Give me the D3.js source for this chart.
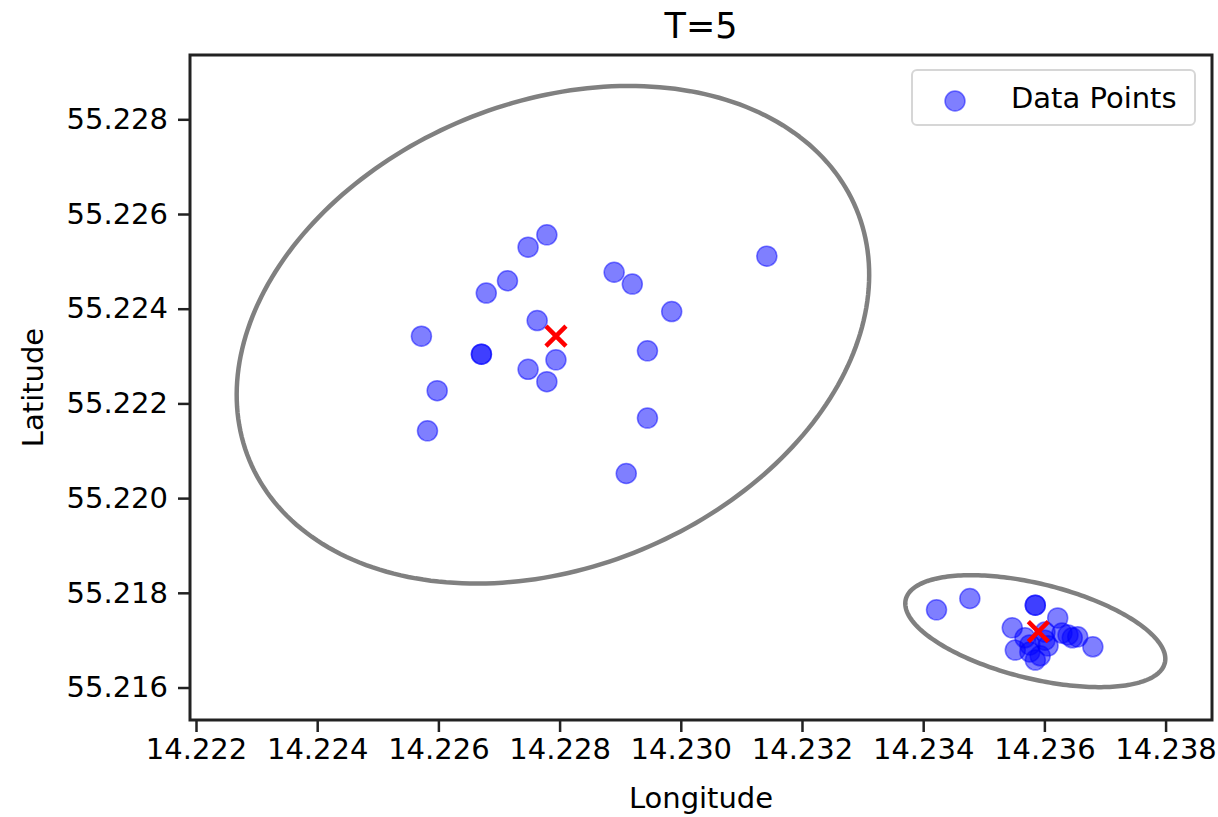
<!DOCTYPE html>
<html>
<head>
<meta charset="utf-8">
<script src="https://cdn.jsdelivr.net/npm/d3@7"></script>
<style>
  body { margin: 0; background: #fff; }
  text { font-family: "DejaVu Sans", sans-serif; fill: #000; }
</style>
</head>
<body>
<div id="chart"></div>
<script>
// data points (longitude, latitude)
var pointLon = [14.22779, 14.22748, 14.22890, 14.22920, 14.22714, 14.22679, 14.22985, 14.22763,
  14.22572, 14.22671, 14.22671, 14.22945, 14.22794, 14.22748, 14.22779, 14.22598, 14.22945,
  14.22582, 14.22910, 14.23142,
  14.23422, 14.23477, 14.23585, 14.23585, 14.23622, 14.23547, 14.23568, 14.23601, 14.23629,
  14.23646, 14.23655, 14.23680, 14.23552, 14.23576, 14.23593, 14.23606,
  14.23576, 14.23601, 14.23639, 14.23585];
var pointLat = [55.22556, 55.22530, 55.22477, 55.22452, 55.22459, 55.22433, 55.22394, 55.22375,
  55.22342, 55.22304, 55.22304, 55.22311, 55.22292, 55.22272, 55.22246, 55.22227, 55.22169,
  55.22142, 55.22052, 55.22511,
  55.21764, 55.21788, 55.21774, 55.21774, 55.21747, 55.21726, 55.21705, 55.21700, 55.21715,
  55.21705, 55.21707, 55.21686, 55.21679, 55.21675, 55.21667, 55.21688,
  55.21690, 55.21717, 55.21711, 55.21658];

// cluster means
var meanLon = [14.22794, 14.23590];
var meanLat = [55.22342, 55.21718];

// covariance ellipses (centre, full width / height in degrees, angle in degrees)
var ellLon = [14.22789, 14.23585];
var ellLat = [55.22345, 55.21719];
var ellWidth = [0.01167, 0.004488];
var ellHeight = [0.00912, 0.001966];
var ellAngle = [45.8, -19.0];

var xTicks = [14.222, 14.224, 14.226, 14.228, 14.230, 14.232, 14.234, 14.236, 14.238];
var yTicks = [55.216, 55.218, 55.220, 55.222, 55.224, 55.226, 55.228];

var margin = {top: 55, right: 6, bottom: 97, left: 190},
  width = 1218 - margin.left - margin.right,
  height = 817 - margin.top - margin.bottom;

var x = d3.scaleLinear().domain([14.221901, 14.238766]).range([0, width]);
var y = d3.scaleLinear().domain([55.215314, 55.229358]).range([height, 0]);

var svg = d3.select("#chart").append("svg")
  .attr("width", 1218)
  .attr("height", 817);

var g = svg.append("g")
  .attr("transform", "translate(" + margin.left + "," + margin.top + ")");

//clip so nothing spills out of the axes
svg.append("defs").append("clipPath").attr("id", "clip")
  .append("rect").attr("width", width).attr("height", height);

var plot = g.append("g").attr("clip-path", "url(#clip)");

//ellipses
var line = d3.line().curve(d3.curveLinearClosed);
ellLon.forEach(function(cx, i) {
  var cy = ellLat[i],
    a = ellWidth[i] / 2,
    b = ellHeight[i] / 2,
    th = ellAngle[i] * Math.PI / 180;
  var pts = d3.range(240).map(function(k) {
    var t = k / 240 * 2 * Math.PI;
    var dx = a * Math.cos(t), dy = b * Math.sin(t);
    return [x(cx + dx * Math.cos(th) - dy * Math.sin(th)),
            y(cy + dx * Math.sin(th) + dy * Math.cos(th))];
  });
  plot.append("path")
    .attr("d", line(pts))
    .attr("fill", "none")
    .attr("stroke", "#808080")
    .attr("stroke-width", 4.5);
});

//points
plot.selectAll(".pt")
    .data(d3.range(pointLon.length))
  .enter().append("circle")
    .attr("class", "pt")
    .attr("cx", function(i) { return x(pointLon[i]); })
    .attr("cy", function(i) { return y(pointLat[i]); })
    .attr("r", 10)
    .attr("fill", "blue")
    .attr("fill-opacity", 0.5)
    .attr("stroke", "blue")
    .attr("stroke-opacity", 0.5)
    .attr("stroke-width", 1.5);

//means as red x
var s = 10;
plot.selectAll(".mean")
    .data(d3.range(meanLon.length))
  .enter().append("path")
    .attr("class", "mean")
    .attr("d", function(i) {
      var cx = x(meanLon[i]), cy = y(meanLat[i]);
      return "M" + (cx - s) + "," + (cy - s) + "L" + (cx + s) + "," + (cy + s) +
        "M" + (cx - s) + "," + (cy + s) + "L" + (cx + s) + "," + (cy - s);
    })
    .attr("stroke", "red")
    .attr("stroke-width", 4.5);

//axes
var xAxis = g.append("g")
  .attr("transform", "translate(0," + height + ")")
  .call(d3.axisBottom(x).tickValues(xTicks).tickFormat(d3.format(".3f")).tickSize(12).tickPadding(6));
var yAxis = g.append("g")
  .call(d3.axisLeft(y).tickValues(yTicks).tickFormat(d3.format(".3f")).tickSize(12).tickPadding(10));

[xAxis, yAxis].forEach(function(ax) {
  ax.select(".domain").remove();
  ax.selectAll("line").attr("stroke", "#222").attr("stroke-width", 2.5);
  ax.selectAll("text").attr("font-size", 29).attr("fill", "#000")
    .style("font-family", "DejaVu Sans, sans-serif");
});

//frame
g.append("rect")
  .attr("width", width)
  .attr("height", height)
  .attr("fill", "none")
  .attr("stroke", "#222")
  .attr("stroke-width", 3);

//title + labels
svg.append("text")
  .attr("x", margin.left + width / 2)
  .attr("y", 38)
  .attr("text-anchor", "middle")
  .attr("font-size", 35)
  .text("T=5");

svg.append("text")
  .attr("x", margin.left + width / 2)
  .attr("y", 808)
  .attr("text-anchor", "middle")
  .attr("font-size", 29)
  .text("Longitude");

svg.append("text")
  .attr("transform", "translate(43," + (margin.top + height / 2) + ") rotate(-90)")
  .attr("text-anchor", "middle")
  .attr("font-size", 29)
  .text("Latitude");

//legend
var leg = svg.append("g");
leg.append("rect")
  .attr("x", 912).attr("y", 70)
  .attr("width", 283).attr("height", 55)
  .attr("rx", 5)
  .attr("fill", "#fff")
  .attr("fill-opacity", 0.8)
  .attr("stroke", "#d6d6d6")
  .attr("stroke-width", 2);
leg.append("circle")
  .attr("cx", 955).attr("cy", 101)
  .attr("r", 10)
  .attr("fill", "blue")
  .attr("fill-opacity", 0.5)
  .attr("stroke", "blue")
  .attr("stroke-opacity", 0.5)
  .attr("stroke-width", 1.5);
leg.append("text")
  .attr("x", 1011).attr("y", 108)
  .attr("font-size", 29)
  .text("Data Points");
</script>
</body>
</html>
